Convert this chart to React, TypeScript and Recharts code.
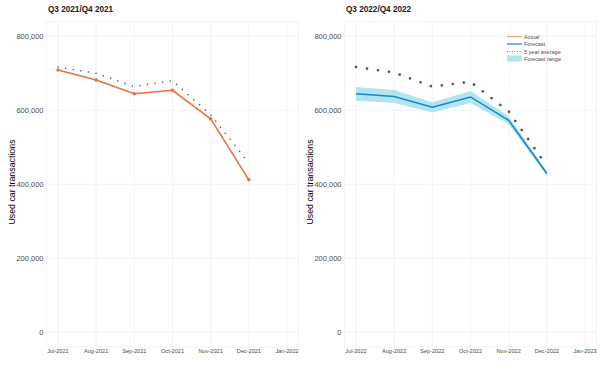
import React from "react";
import {
  ComposedChart,
  Line,
  Area,
  XAxis,
  YAxis,
  CartesianGrid,
} from "recharts";

const months2021 = ["Jul-2021", "Aug-2021", "Sep-2021", "Oct-2021", "Nov-2021", "Dec-2021", "Jan-2022"];
const months2022 = ["Jul-2022", "Aug-2022", "Sep-2022", "Oct-2022", "Nov-2022", "Dec-2022", "Jan-2023"];
const yTicks = [0, 200000, 400000, 600000, 800000];

const actual2021 = [709000, 682000, 645000, 654000, 577000, 412000];
const avg2021 = [717000, 700000, 664000, 680000, 588000, 457000];

const forecast2022 = [645000, 637000, 608000, 636000, 573000, 429000];
const rangeLow2022 = [626000, 620000, 594000, 620000, 562000, 423000];
const rangeHigh2022 = [663000, 655000, 622000, 652000, 584000, 435000];
const avg2022 = [717000, 702000, 664000, 677000, 597000, 450000];

const COLORS = {
  actual: "#e8703a",
  actualKey: "#f3a37e",
  forecast: "#1a84c7",
  range: "#b2e6ee",
  avg: "#555555",
  grid: "#ebebeb",
  tick: "#4d4d4d",
  text: "#1a1a1a",
};

const FONT = "'Liberation Sans', Arial, sans-serif";

const leftData = actual2021.map((v, i) => ({ x: i, actual: v, avg: avg2021[i] }));
const rightData = forecast2022.map((v, i) => ({
  x: i,
  forecast: v,
  range: [rangeLow2022[i], rangeHigh2022[i]],
  avg: avg2022[i],
}));

const fmt = (v: number) => v.toLocaleString("en-US");

type PanelProps = {
  left: number;
  title: string;
  labels: string[];
  children: React.ReactNode;
  data: any[];
  legend?: boolean;
};

const Legend = () => (
  <svg
    width={90}
    height={34}
    style={{ position: "absolute", left: 209, top: 32 }}
  >
    <line x1={0} x2={15} y1={4.5} y2={4.5} stroke={COLORS.actualKey} strokeWidth={1.2} />
    <text x={17} y={6.5} fontSize={5.5} fill={COLORS.tick}>Actual</text>
    <line x1={0} x2={15} y1={12} y2={12} stroke={COLORS.forecast} strokeWidth={1.2} />
    <text x={17} y={14} fontSize={5.5} fill={COLORS.tick}>Forecast</text>
    <line x1={0} x2={15} y1={19.5} y2={19.5} stroke={COLORS.avg} strokeWidth={0.8} strokeDasharray="1 1.5" />
    <text x={17} y={21.5} fontSize={5.5} fill={COLORS.tick}>5 year average</text>
    <rect x={0} y={23.5} width={15} height={6} fill={COLORS.range} />
    <text x={17} y={29} fontSize={5.5} fill={COLORS.tick}>Forecast range</text>
  </svg>
);

const Panel = ({ left, title, labels, children, data, legend }: PanelProps) => (
  <div style={{ position: "absolute", left, top: 0, width: 300, height: 372, fontFamily: FONT }}>
    <ComposedChart
      width={300}
      height={372}
      data={data}
      margin={{ top: 21.5, right: 1.5, bottom: 5, left: 0 }}
      style={{ fontFamily: FONT }}
    >
      <CartesianGrid stroke={COLORS.grid} strokeWidth={0.6} />
      <XAxis
        dataKey="x"
        type="number"
        domain={[-0.3, 6.3]}
        ticks={[0, 1, 2, 3, 4, 5, 6]}
        interval={0}
        tickFormatter={(i: number) => labels[i]}
        axisLine={false}
        tickLine={false}
        tickSize={0}
        tickMargin={2.5}
        height={20}
        tick={{ fontSize: 5.6, fill: COLORS.tick }}
      />
      <YAxis
        type="number"
        domain={[-40000, 840000]}
        ticks={yTicks}
        interval={0}
        tickFormatter={fmt}
        axisLine={false}
        tickLine={false}
        tickSize={0}
        tickMargin={3}
        width={46.5}
        tick={{ fontSize: 7.5, fill: COLORS.tick }}
      />
      {children}
    </ComposedChart>
    <div
      style={{
        position: "absolute",
        left: 48,
        top: 5,
        fontSize: 8.2,
        fontWeight: "bold",
        color: COLORS.text,
        whiteSpace: "nowrap",
      }}
    >
      {title}
    </div>
    <div
      style={{
        position: "absolute",
        left: 11.5,
        top: 182,
        transform: "translate(-50%, -50%) rotate(-90deg)",
        fontSize: 8.8,
        color: "#000",
        whiteSpace: "nowrap",
      }}
    >
      Used car transactions
    </div>
    {legend && <Legend />}
  </div>
);

export default function App() {
  return (
    <div style={{ position: "absolute", left: 0, top: 0, width: 602, height: 372, background: "#fff" }}>
      <Panel left={0} title="Q3 2021/Q4 2021" labels={months2021} data={leftData}>
        <Line
          dataKey="avg"
          stroke={COLORS.avg}
          strokeWidth={1.5}
          strokeDasharray="0.1 7.6"
          strokeLinecap="round"
          dot={false}
          isAnimationActive={false}
        />
        <Line
          dataKey="actual"
          stroke={COLORS.actual}
          strokeWidth={1.5}
          dot={{ r: 1, fill: COLORS.actual, stroke: COLORS.actual }}
          isAnimationActive={false}
        />
      </Panel>
      <Panel left={298} title="Q3 2022/Q4 2022" labels={months2022} data={rightData} legend>
        <Area
          dataKey="range"
          stroke="none"
          fill={COLORS.range}
          fillOpacity={1}
          isAnimationActive={false}
        />
        <Line
          dataKey="avg"
          stroke={COLORS.avg}
          strokeWidth={2.6}
          strokeDasharray="0.1 11"
          strokeLinecap="round"
          dot={false}
          isAnimationActive={false}
        />
        <Line
          dataKey="forecast"
          stroke={COLORS.forecast}
          strokeWidth={1.5}
          dot={false}
          isAnimationActive={false}
        />
      </Panel>
    </div>
  );
}
